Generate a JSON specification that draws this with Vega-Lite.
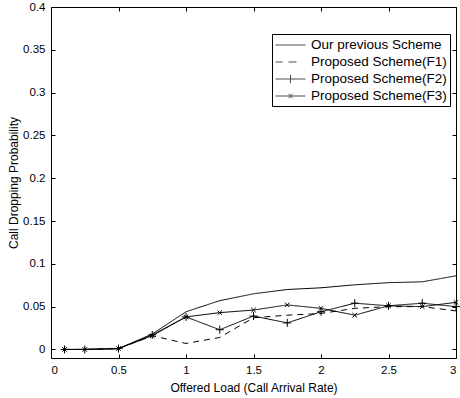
{
  "$schema": "https://vega.github.io/schema/vega-lite/v6.json",
  "width": 405,
  "height": 351,
  "autosize": "none",
  "padding": {"left": 51, "top": 7, "right": 4, "bottom": 40},
  "background": "white",
  "config": {
    "font": "Liberation Sans",
    "view": {"stroke": "black", "strokeWidth": 1},
    "axis": {
      "domain": false,
      "tickColor": "black",
      "labelColor": "black",
      "titleColor": "black",
      "grid": false,
      "tickSize": 4,
      "offset": -4,
      "labelPadding": 6,
      "labelFontSize": 11.5,
      "titleFontSize": 12,
      "titleFontWeight": "normal",
      "labelFont": "Liberation Sans",
      "titleFont": "Liberation Sans"
    }
  },
  "data": {"values": [
      {"x": 0.1, "y": 0, "s": "Our previous Scheme"},
      {"x": 0.25, "y": 0, "s": "Our previous Scheme"},
      {"x": 0.5, "y": 0.001, "s": "Our previous Scheme"},
      {"x": 0.75, "y": 0.018, "s": "Our previous Scheme"},
      {"x": 1.0, "y": 0.044, "s": "Our previous Scheme"},
      {"x": 1.25, "y": 0.057, "s": "Our previous Scheme"},
      {"x": 1.5, "y": 0.065, "s": "Our previous Scheme"},
      {"x": 1.75, "y": 0.07, "s": "Our previous Scheme"},
      {"x": 2.0, "y": 0.072, "s": "Our previous Scheme"},
      {"x": 2.25, "y": 0.0755, "s": "Our previous Scheme"},
      {"x": 2.5, "y": 0.078, "s": "Our previous Scheme"},
      {"x": 2.75, "y": 0.079, "s": "Our previous Scheme"},
      {"x": 3.0, "y": 0.086, "s": "Our previous Scheme"},
      {"x": 0.1, "y": 0, "s": "Proposed Scheme(F1)"},
      {"x": 0.25, "y": 0, "s": "Proposed Scheme(F1)"},
      {"x": 0.5, "y": 0.001, "s": "Proposed Scheme(F1)"},
      {"x": 0.75, "y": 0.016, "s": "Proposed Scheme(F1)"},
      {"x": 1.0, "y": 0.007, "s": "Proposed Scheme(F1)"},
      {"x": 1.25, "y": 0.014, "s": "Proposed Scheme(F1)"},
      {"x": 1.5, "y": 0.037, "s": "Proposed Scheme(F1)"},
      {"x": 1.75, "y": 0.04, "s": "Proposed Scheme(F1)"},
      {"x": 2.0, "y": 0.042, "s": "Proposed Scheme(F1)"},
      {"x": 2.25, "y": 0.048, "s": "Proposed Scheme(F1)"},
      {"x": 2.5, "y": 0.05, "s": "Proposed Scheme(F1)"},
      {"x": 2.75, "y": 0.05, "s": "Proposed Scheme(F1)"},
      {"x": 3.0, "y": 0.045, "s": "Proposed Scheme(F1)"},
      {"x": 0.1, "y": 0, "s": "Proposed Scheme(F2)"},
      {"x": 0.25, "y": 0, "s": "Proposed Scheme(F2)"},
      {"x": 0.5, "y": 0.001, "s": "Proposed Scheme(F2)"},
      {"x": 0.75, "y": 0.017, "s": "Proposed Scheme(F2)"},
      {"x": 1.0, "y": 0.038, "s": "Proposed Scheme(F2)"},
      {"x": 1.25, "y": 0.023, "s": "Proposed Scheme(F2)"},
      {"x": 1.5, "y": 0.039, "s": "Proposed Scheme(F2)"},
      {"x": 1.75, "y": 0.031, "s": "Proposed Scheme(F2)"},
      {"x": 2.0, "y": 0.044, "s": "Proposed Scheme(F2)"},
      {"x": 2.25, "y": 0.054, "s": "Proposed Scheme(F2)"},
      {"x": 2.5, "y": 0.051, "s": "Proposed Scheme(F2)"},
      {"x": 2.75, "y": 0.054, "s": "Proposed Scheme(F2)"},
      {"x": 3.0, "y": 0.05, "s": "Proposed Scheme(F2)"},
      {"x": 0.1, "y": 0, "s": "Proposed Scheme(F3)"},
      {"x": 0.25, "y": 0, "s": "Proposed Scheme(F3)"},
      {"x": 0.5, "y": 0.001, "s": "Proposed Scheme(F3)"},
      {"x": 0.75, "y": 0.016, "s": "Proposed Scheme(F3)"},
      {"x": 1.0, "y": 0.038, "s": "Proposed Scheme(F3)"},
      {"x": 1.25, "y": 0.043, "s": "Proposed Scheme(F3)"},
      {"x": 1.5, "y": 0.046, "s": "Proposed Scheme(F3)"},
      {"x": 1.75, "y": 0.052, "s": "Proposed Scheme(F3)"},
      {"x": 2.0, "y": 0.048, "s": "Proposed Scheme(F3)"},
      {"x": 2.25, "y": 0.04, "s": "Proposed Scheme(F3)"},
      {"x": 2.5, "y": 0.051, "s": "Proposed Scheme(F3)"},
      {"x": 2.75, "y": 0.05, "s": "Proposed Scheme(F3)"},
      {"x": 3.0, "y": 0.055, "s": "Proposed Scheme(F3)"}
  ]},
  "resolve": {"axis": {"x": "independent", "y": "independent"}},
  "layer": [
    {
      "mark": {"type": "line", "color": "black", "strokeWidth": 1},
      "encoding": {
        "x": {
          "field": "x", "type": "quantitative",
          "scale": {"domain": [0, 3], "nice": false, "zero": false},
          "axis": {"values": [0, 0.5, 1, 1.5, 2, 2.5, 3], "format": "~g", "title": "Offered Load (Call Arrival Rate)", "titleY": 33, "titleBaseline": "middle"}
        },
        "y": {
          "field": "y", "type": "quantitative",
          "scale": {"domain": [-0.01, 0.4], "nice": false, "zero": false},
          "axis": {"values": [0, 0.05, 0.1, 0.15, 0.2, 0.25, 0.3, 0.35, 0.4], "format": "~g", "title": "Call Dropping Probability", "titleX": -42, "titleBaseline": "middle"}
        },
        "strokeDash": {
          "field": "s", "type": "nominal",
          "scale": {"domain": ["Proposed Scheme(F1)", "Our previous Scheme", "Proposed Scheme(F2)", "Proposed Scheme(F3)"], "range": [[6, 5], [1, 0], [1, 0], [1, 0]]},
          "legend": null
        }
      }
    },
    {
      "transform": [{"filter": "datum.x === 0.25"}],
      "mark": {"type": "point", "size": 1, "filled": false, "stroke": "black", "strokeWidth": 1},
      "encoding": {
        "x": {"field": "x", "type": "quantitative", "axis": {"orient": "top", "values": [0, 0.5, 1, 1.5, 2, 2.5, 3], "labels": false, "title": null}},
        "y": {"field": "y", "type": "quantitative", "axis": {"orient": "right", "values": [0, 0.05, 0.1, 0.15, 0.2, 0.25, 0.3, 0.35, 0.4], "labels": false, "title": null}},
        "shape": {
          "field": "s", "type": "nominal",
          "scale": {
            "domain": ["Our previous Scheme", "Proposed Scheme(F1)", "Proposed Scheme(F2)", "Proposed Scheme(F3)"],
            "range": ["M-1,0H3", "M-1,0H-0.07M0.73,0H1.8", "M-1,0H3M1,-0.55V0.55", "M-1,0H3M0.75,-0.3L1.25,0.3M0.75,0.3L1.25,-0.3"]
          },
          "legend": {
            "title": null,
            "orient": "none",
            "legendX": 221,
            "legendY": 27,
            "padding": 3,
            "strokeColor": "black",
            "fillColor": "white",
            "symbolSize": 225,
            "symbolStrokeColor": "black",
            "symbolStrokeWidth": 1,
            "labelOffset": 20,
            "labelFontSize": 13.5,
            "labelFont": "Liberation Sans",
            "labelColor": "black",
            "labelLimit": 200,
            "rowPadding": 2
          }
        }
      }
    },
    {
      "transform": [{"filter": "datum.s === 'Proposed Scheme(F2)'"}],
      "mark": {"type": "point", "shape": "M-1,0H1M0,-1V1", "size": 64, "filled": false, "stroke": "black", "strokeWidth": 1, "opacity": 1},
      "encoding": {
        "x": {"field": "x", "type": "quantitative", "axis": null},
        "y": {"field": "y", "type": "quantitative", "axis": null}
      }
    },
    {
      "transform": [{"filter": "datum.s === 'Proposed Scheme(F3)'"}],
      "mark": {"type": "point", "shape": "M-1,-1L1,1M-1,1L1,-1", "size": 20, "filled": false, "stroke": "black", "strokeWidth": 1, "opacity": 1},
      "encoding": {
        "x": {"field": "x", "type": "quantitative", "axis": null},
        "y": {"field": "y", "type": "quantitative", "axis": null}
      }
    }
  ]
}
